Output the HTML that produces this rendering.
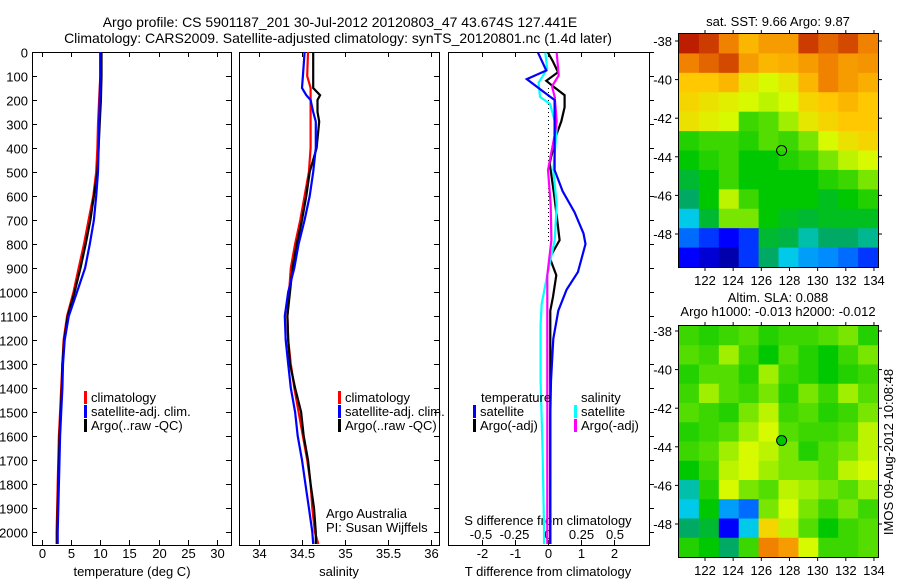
<!DOCTYPE html>
<html><head><meta charset="utf-8"><style>
body{margin:0;background:#fff;}
svg text{font-family:"Liberation Sans",sans-serif;fill:#000;}
</style></head><body>
<svg id="s" width="900" height="580" viewBox="0 0 900 580" xmlns="http://www.w3.org/2000/svg">
<text x="340" y="27" font-size="14" text-anchor="middle">Argo profile: CS 5901187_201 30-Jul-2012 20120803_47 43.674S 127.441E</text>
<text x="338" y="43" font-size="14" text-anchor="middle">Climatology: CARS2009. Satellite-adjusted climatology: synTS_20120801.nc (1.4d later)</text>
<text x="778" y="26" font-size="13" text-anchor="middle">sat. SST: 9.66 Argo: 9.87</text>
<text x="778" y="302" font-size="13" text-anchor="middle">Altim. SLA: 0.088</text>
<text x="778" y="316" font-size="13" text-anchor="middle">Argo h1000: -0.013 h2000: -0.012</text>
<text transform="translate(893,452) rotate(-90)" font-size="13" text-anchor="middle">IMOS 09-Aug-2012 10:08:48</text>
<g id="g"></g>
</svg>
<script>
// ---- data ----
const depthTicks=[0,100,200,300,400,500,600,700,800,900,1000,1100,1200,1300,1400,1500,1600,1700,1800,1900,2000];
const depths=[0,100,200,300,400,500,600,700,800,900,1000,1100,1200,1300,1400,1500,1600,1700,1800,1900,2000,2050];
const tempArgo=[10.2,10.2,10.1,9.9,9.7,9.5,8.9,8.3,7.5,6.6,5.6,4.4,3.8,3.5,3.4,3.2,3.0,2.9,2.8,2.7,2.6,2.6];
const tempClim=[10.0,10.0,9.8,9.6,9.5,9.3,8.8,8.0,7.2,6.3,5.4,4.3,3.7,3.5,3.3,3.1,2.9,2.8,2.7,2.6,2.5,2.5];
const tempSat=[10.0,10.0,9.9,9.8,9.7,9.6,9.3,8.9,8.2,7.4,6.0,4.6,3.9,3.6,3.5,3.3,3.1,3.0,2.9,2.8,2.7,2.7];
const salDepths=[0,100,150,180,200,250,290,400,500,600,700,800,900,1000,1100,1200,1300,1400,1500,1600,1700,1800,1900,2000,2050];
const salArgo=[34.63,34.63,34.63,34.71,34.68,34.68,34.70,34.67,34.59,34.55,34.5,34.44,34.39,34.36,34.33,34.34,34.36,34.42,34.49,34.52,34.57,34.6,34.64,34.66,34.66];
const salClim=[34.57,34.56,34.6,34.6,34.6,34.6,34.6,34.6,34.58,34.53,34.48,34.42,34.37,34.35,34.33,34.34,34.37,34.41,34.46,34.51,34.56,34.6,34.62,34.65,34.69];
const salSat=[34.53,34.51,34.5,34.55,34.6,34.63,34.66,34.66,34.63,34.59,34.53,34.46,34.41,34.34,34.3,34.31,34.34,34.37,34.42,34.45,34.5,34.54,34.58,34.62,34.63];
const dTDepths=[3,77,113,164,200,346,492,580,668,756,800,917,990,1078,1195,1370,1516,1700,1955,2050];
const dTSat=[-0.3,-0.05,-0.64,-0.15,0.2,0.2,0.2,0.44,0.8,1.07,1.13,0.9,0.56,0.31,0.16,0.09,0.07,0.07,0.07,0.07];
const dTArgoDepths=[3,40,84,120,143,180,230,289,346,463,609,784,857,930,1020,1078,1500,2000,2050];
const dTArgo=[0,0.15,0.3,-0.05,0.15,0.5,0.5,0.4,0.25,0.05,0.2,0.35,0.05,0.25,0.15,0.07,0.07,0.07,0.07];
const dSDepths=[3,70,128,187,216,318,492,638,784,930,1049,1136,1370,1662,1984,2050];
const dSSat=[-0.02,-0.006,-0.07,-0.06,0.015,0.065,0.04,0.065,0.05,-0.006,-0.047,-0.055,-0.055,-0.04,-0.03,-0.03];
const dSArgoDepths=[3,98,143,187,289,346,492,638,784,930,1224,2050];
const dSArgo=[0.065,0.08,0.03,0.05,0.065,0.05,0.0,0.02,0.025,-0.005,-0.005,-0.005];
const tTicks=[0,5,10,15,20,25,30];
const sTicks=[34,34.5,35,35.5,36];
const dTTicks=[-2,-1,0,1,2];
const dSTickLabels=[-0.5,-0.25,0,0.25,0.5];
const lonTicks=[122,124,126,128,130,132,134];
const latTicks=[-38,-40,-42,-44,-46,-48];
const argoLon=127.441, argoLat=-43.674;
const sstGrid=[
[0.95,0.93,0.88,0.82,0.85,0.85,0.93,0.9,0.92,0.88],
[0.88,0.9,0.92,0.85,0.82,0.83,0.85,0.88,0.85,0.86],
[0.8,0.8,0.82,0.75,0.72,0.75,0.82,0.88,0.85,0.83],
[0.78,0.76,0.74,0.72,0.7,0.72,0.78,0.8,0.82,0.8],
[0.76,0.74,0.72,0.6,0.62,0.68,0.75,0.78,0.8,0.8],
[0.58,0.6,0.6,0.58,0.62,0.6,0.65,0.72,0.76,0.78],
[0.55,0.58,0.6,0.55,0.55,0.58,0.6,0.65,0.7,0.72],
[0.5,0.55,0.6,0.55,0.55,0.55,0.55,0.58,0.6,0.65],
[0.45,0.55,0.7,0.6,0.55,0.55,0.55,0.52,0.55,0.58],
[0.35,0.5,0.65,0.65,0.55,0.52,0.5,0.52,0.52,0.52],
[0.25,0.2,0.15,0.2,0.5,0.48,0.4,0.45,0.45,0.42],
[0.15,0.1,0.05,0.2,0.45,0.35,0.3,0.28,0.25,0.2]];
const slaGrid=[
[0.6,0.58,0.6,0.62,0.58,0.6,0.6,0.62,0.65,0.58],
[0.62,0.6,0.68,0.6,0.55,0.62,0.58,0.55,0.6,0.65],
[0.58,0.62,0.62,0.58,0.68,0.6,0.58,0.55,0.58,0.6],
[0.6,0.68,0.62,0.6,0.65,0.58,0.65,0.6,0.68,0.62],
[0.62,0.6,0.58,0.65,0.7,0.6,0.62,0.58,0.6,0.65],
[0.58,0.6,0.62,0.68,0.72,0.62,0.6,0.6,0.62,0.7],
[0.6,0.62,0.68,0.72,0.7,0.65,0.58,0.62,0.65,0.7],
[0.55,0.6,0.7,0.72,0.68,0.65,0.65,0.62,0.7,0.72],
[0.4,0.58,0.72,0.65,0.62,0.7,0.68,0.65,0.62,0.68],
[0.35,0.55,0.3,0.25,0.65,0.72,0.65,0.6,0.65,0.6],
[0.45,0.5,0.15,0.35,0.78,0.7,0.62,0.55,0.6,0.62],
[0.58,0.55,0.45,0.6,0.88,0.85,0.72,0.6,0.6,0.62]];

// ---- axes ----
const TOP=52,BOT=545;
const yD=d=>TOP+d*0.24;
const xT=v=>42+v*5.83;
const xS=v=>259+(v-34)*86;
const xDT=v=>548+v*33.2;
const xDS=v=>548+v*134;
const xLon=v=>705+(v-122)*14.08;
const yLat1=v=>41+(-38-v)*19.3;
const yLat2=v=>331+(-38-v)*19.3;
const NS='http://www.w3.org/2000/svg';
const G=document.getElementById('g');
function mk(tag,attrs,parent){const e=document.createElementNS(NS,tag);for(const k in attrs)e.setAttribute(k,attrs[k]);(parent||G).appendChild(e);return e;}
function txt(s,x,y,size,anchor){const e=mk('text',{x:x,y:y,'font-size':size,'text-anchor':anchor||'middle'});e.textContent=s;return e;}

const panels=[[32,231,'temperature-panel'],[239,439,'salinity-panel'],[448,649,'difference-panel']];
panels.forEach(p=>{
  const r=mk('rect',{x:p[0]+0.5,y:TOP+0.5,width:p[1]-p[0],height:BOT-TOP,fill:'none',stroke:'#000','stroke-width':1});
  
  
});
depthTicks.forEach(d=>{
  const y=Math.round(yD(d))+0.5;
  const t=txt(String(d),28,y+5,13,'end');
  
  
  mk('line',{x1:32,x2:37,y1:y,y2:y,stroke:'#000'});
  mk('line',{x1:226,x2:231,y1:y,y2:y,stroke:'#000'});
  mk('line',{x1:434,x2:439,y1:y,y2:y,stroke:'#000'});
  mk('line',{x1:649,x2:654,y1:y,y2:y,stroke:'#000'});
});
function xticks(arr,fx,labels,ly){
  arr.forEach((v,i)=>{const x=Math.round(fx(v))+0.5;
    mk('line',{x1:x,x2:x,y1:BOT-5,y2:BOT,stroke:'#000'});
    mk('line',{x1:x,x2:x,y1:TOP,y2:TOP+5,stroke:'#000'});
    const t=txt(String(labels?labels[i]:v),x,ly,13);
    
    
  });
}
xticks(tTicks,xT,null,558);
xticks(sTicks,xS,null,558);
xticks(dTTicks,xDT,null,558);
dSTickLabels.forEach(v=>{const t=txt(String(v),xDS(v),539,13);
  
  });
let t;
t=txt('temperature (deg C)',132,576,13);
t=txt('salinity',339,576,13);
t=txt('T difference from climatology',548,576,13);
t=txt('S difference from climatology',548,525,13);
t=txt('Argo Australia',326,518,13,'start');
t=txt('PI: Susan Wijffels',326,532,13,'start');

mk('line',{x1:548.5,x2:548.5,y1:yD(150),y2:yD(800),stroke:'#000','stroke-dasharray':'1,3'});

function series(vals,deps,fx,color,name){
  const pts=vals.map((v,i)=>fx(v).toFixed(1)+','+yD(deps[i]).toFixed(1)).join(' ');
  const e=mk('polyline',{points:pts,fill:'none',stroke:color,'stroke-width':2.2});
  
  
}
series(tempClim,depths,xT,'#ff0000','temp-climatology-line');
series(tempArgo,depths,xT,'#000000','temp-argo-line');
series(tempSat,depths,xT,'#0000ff','temp-satellite-line');
series(salClim,salDepths,xS,'#ff0000','sal-climatology-line');
series(salArgo,salDepths,xS,'#000000','sal-argo-line');
series(salSat,salDepths,xS,'#0000ff','sal-satellite-line');
series(dTArgo,dTArgoDepths,xDT,'#000000','tdiff-argo-line');
series(dSSat,dSDepths,xDS,'#00ffff','sdiff-satellite-line');
series(dSArgo,dSArgoDepths,xDS,'#ff00ff','sdiff-argo-line');
series(dTSat,dTDepths,xDT,'#0000ff','tdiff-satellite-line');

function legend(x,y,color,label,name){
  const r=mk('rect',{x:x,y:y-11,width:3,height:13,fill:color});
  
  
  const tt=txt(label,x+7,y,13,'start');
  
  
}
[84,338].forEach(x=>{legend(x,402,'#ff0000','climatology','legend-climatology');legend(x,416,'#0000ff','satellite-adj. clim.','legend-satellite-adj');legend(x,430,'#000','Argo(..raw -QC)','legend-argo');});
t=txt('temperature',481,402,13,'start');
t=txt('salinity',581,402,13,'start');
legend(473,416,'#0000ff','satellite','legend-t-satellite');
legend(473,430,'#000','Argo(-adj)','legend-t-argo');
legend(574,416,'#00ffff','satellite','legend-s-satellite');
legend(574,430,'#ff00ff','Argo(-adj)','legend-s-argo');

// ---- maps ----
const cmapStops=[[0,0,0,130],[0.15,0,0,255],[0.28,0,140,255],[0.36,0,210,230],[0.45,0,170,100],[0.55,0,200,0],[0.65,120,230,0],[0.72,215,250,0],[0.8,255,200,0],[0.88,240,130,0],[0.95,190,30,0],[1,150,0,0]];
function cmap(v){
  for(let i=1;i<cmapStops.length;i++){const a=cmapStops[i-1],b=cmapStops[i];
    if(v<=b[0]){const f=(v-a[0])/(b[0]-a[0]);
      return 'rgb('+[1,2,3].map(k=>Math.round(a[k]+(b[k]-a[k])*f)).join(',')+')';}}
  return 'rgb(150,0,0)';
}
function map(grid,y0,y1,yLat,name,filled){
  const x0=679,x1=878,rows=grid.length,cols=grid[0].length;
  const cw=(x1-x0)/cols,ch=(y1-y0)/rows;
  grid.forEach((row,i)=>row.forEach((v,j)=>{
    const c=mk('rect',{x:(x0+j*cw).toFixed(2),y:(y0+i*ch).toFixed(2),width:(cw+0.6).toFixed(2),height:(ch+0.6).toFixed(2),fill:cmap(v)});
    
    
  }));
  const fr=mk('rect',{x:x0-0.5,y:y0-0.5,width:x1-x0+1,height:y1-y0+1,fill:'none',stroke:'#000'});
  
  
  lonTicks.forEach(v=>{const x=xLon(v);
    mk('line',{x1:x,x2:x,y1:y1,y2:y1+4,stroke:'#000'});
    mk('line',{x1:x,x2:x,y1:y0-4,y2:y0,stroke:'#000'});
    const tt=txt(String(v),x,y1+18,13);
    
    });
  latTicks.forEach(v=>{const y=yLat(v);
    mk('line',{x1:x0-4,x2:x0,y1:y,y2:y,stroke:'#000'});
    mk('line',{x1:x1,x2:x1+4,y1:y,y2:y,stroke:'#000'});
    const tt=txt(String(v),672,y+5,13,'end');
    
    });
  const m=mk('circle',{cx:xLon(argoLon),cy:yLat(argoLat),r:5,fill:filled?cmap(0.55):'none',stroke:'#000','stroke-width':1});
  
  
}
map(sstGrid,34,267,yLat1,'sst-map',false);
map(slaGrid,326,557,yLat2,'sla-map',true);
</script>
</body></html>
